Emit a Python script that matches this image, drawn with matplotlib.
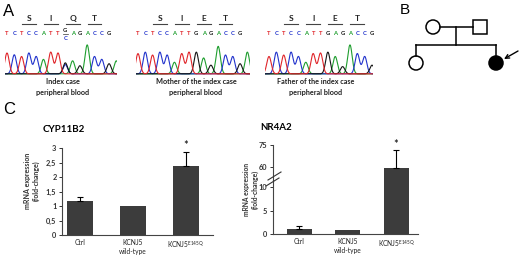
import numpy as np
import matplotlib
matplotlib.use("Agg")
import matplotlib.pyplot as plt
from matplotlib import transforms
from matplotlib.patches import Circle, Rectangle

# --- данные: секвенирование KCNJ5 ---
BASE_COLORS = {"A": "#1f9e2f", "C": "#2233cc", "G": "#151515", "T": "#e0262b"}

index_seq = "TCTCCATTGAGACCG"
index_het = {8: "C"}
index_aa = ["S", "I", "Q", "T"]
index_peaks = [("T", .72), ("C", .66), ("T", .60), ("C", .72), ("C", .60), ("A", .50),
               ("T", .75), ("T", .72), ("G", .38), ("A", .45), ("G", .28), ("A", 1.0),
               ("C", .60), ("C", .50), ("G", .35), ("A", .45)]
index_het_peaks = [(8, "C", .32)]

mother_seq = "TCTCCATTGAGACCG"
mother_aa = ["S", "I", "E", "T"]
mother_peaks = [("T", .70), ("C", .75), ("T", .65), ("C", .75), ("C", .65), ("A", .40),
                ("T", .70), ("T", .75), ("G", .75), ("A", .55), ("G", .30), ("A", .95),
                ("C", .65), ("C", .60), ("G", .35), ("A", .75)]

father_seq = "TCTCCATTGAGACCG"
father_aa = ["S", "I", "E", "T"]
father_peaks = [("T", .60), ("C", .75), ("T", .65), ("C", .75), ("C", .60), ("A", .40),
                ("T", .70), ("T", .72), ("G", .75), ("A", .60), ("G", .25), ("A", 1.0),
                ("C", .70), ("C", .60), ("G", .30)]

captions = ["Index case\nperipheral blood",
            "Mother of the index case\nperipheral blood",
            "Father of the index case\nperipheral blood"]

# --- данные: экспрессия мРНК ---
conditions = ["Ctrl", "KCNJ5\nwild-type", "KCNJ5$^{\\mathregular{E145Q}}$"]
cyp_mean = [1.18, 1.0, 2.37]
cyp_err = [0.12, 0.0, 0.50]
nr_mean = [1.05, 0.95, 59.5]
nr_err = [0.70, 0.0, 12.0]
significant = [False, False, True]

# --- родословная: (пол, поколение, поражён) ---
pedigree = [("F", 0, False), ("M", 0, False), ("F", 1, False), ("F", 1, True)]

W, H = 520, 257
BAR = "#3c3c3c"
FONT = "Lato"
plt.rcParams["font.family"] = [FONT, "DejaVu Sans"]


def box(x0, y0, x1, y1):
    return [x0 / W, 1 - y1 / H, (x1 - x0) / W, (y1 - y0) / H]


fig = plt.figure(figsize=(W / 100, H / 100), dpi=100)
ov = fig.add_axes([0, 0, 1, 1])
ov.set_xlim(0, W)
ov.set_ylim(H, 0)
ov.axis("off")
ov.set_zorder(10)

for lab, x, y, s in [("A", 3, 11, 12), ("B", 400, 10, 11), ("C", 3, 110, 12)]:
    ov.text(x, y, lab, fontsize=s, family="Liberation Sans", va="center", ha="left")


def chromatogram(x0, sp, left, right, seq, aa, peaks, het, het_peaks, caption, cx):
    ax = fig.add_axes(box(left, 42, right, 75))
    ax.set_xlim((left - x0) / sp, (right - x0) / sp)
    ax.set_ylim(-0.04, 1.1)
    ax.axis("off")
    xs = np.linspace(-1, len(peaks) + 1, 800)
    for b, col in BASE_COLORS.items():
        y = np.zeros_like(xs)
        for i, (pb, h) in enumerate(peaks):
            if pb == b:
                y += h * np.exp(-(xs - i) ** 2 / (2 * 0.3 ** 2))
        for i, hb, h in het_peaks:
            if hb == b:
                y += h * np.exp(-(xs - i) ** 2 / (2 * 0.3 ** 2))
        ax.plot(xs, y, color=col, lw=0.8)
    tr = transforms.blended_transform_factory(ax.transData, ov.transData)
    for i, b in enumerate(seq):
        if i in het:
            ov.text(i, 30.5, b, transform=tr, ha="center", va="center", fontsize=4.2,
                    fontweight="bold", color=BASE_COLORS[b], clip_on=False)
            ov.text(i, 38, het[i], transform=tr, ha="center", va="center", fontsize=4.2,
                    fontweight="bold", color=BASE_COLORS[het[i]], clip_on=False)
            ov.plot([i - 0.3, i + 0.3], [34.2, 34.2], transform=tr, color="#333", lw=0.5)
        else:
            ov.text(i, 33.5, b, transform=tr, ha="center", va="center", fontsize=4.2,
                    fontweight="bold", color=BASE_COLORS[b], clip_on=False)
    for k, a in enumerate(aa):
        c = 3 + 3 * k
        ov.text(c, 18.5, a, transform=tr, ha="center", va="center", fontsize=6,
                fontweight="bold", color="#222")
        ov.plot([c - 0.95, c + 0.95], [24, 24], transform=tr, color="#444", lw=0.8)
    ov.text(cx, 87, caption, ha="center", va="center", fontsize=5.2,
            fontweight="bold", color="#222", linespacing=1.6)


chromatogram(7, 7.29, 5, 117, index_seq, index_aa, index_peaks, index_het,
             index_het_peaks, captions[0], 63)
chromatogram(138, 7.29, 136, 250, mother_seq, mother_aa, mother_peaks, {}, [],
             captions[1], 196)
chromatogram(269, 7.36, 265, 373, father_seq, father_aa, father_peaks, {}, [],
             captions[2], 316)

# родословная
pos = {(0, 0): (433, 27), (0, 1): (480, 27), (1, 0): (416, 63), (1, 1): (496, 63)}
count = {0: 0, 1: 0}
for sex, gen, aff in pedigree:
    x, y = pos[(gen, count[gen])]
    count[gen] += 1
    fc = "black" if aff else "white"
    if sex == "F":
        ov.add_patch(Circle((x, y), 7, fc=fc, ec="black", lw=1.1))
    else:
        ov.add_patch(Rectangle((x - 7, y - 7), 14, 14, fc=fc, ec="black", lw=1.1))
ov.plot([440, 473], [27, 27], color="black", lw=1.1)
ov.plot([456, 456], [27, 45], color="black", lw=1.1)
ov.plot([416, 496], [45, 45], color="black", lw=1.1)
ov.plot([416, 416], [45, 56], color="black", lw=1.1)
ov.plot([496, 496], [45, 56], color="black", lw=1.1)
ov.annotate("", xy=(504, 59), xytext=(518, 51),
            arrowprops=dict(arrowstyle="->", lw=1.0, color="black",
                            shrinkA=0, shrinkB=0, mutation_scale=7))


def style(ax, bottom=True):
    for s in ["top", "right"]:
        ax.spines[s].set_visible(False)
    ax.spines["left"].set_color("#444")
    ax.spines["left"].set_linewidth(0.8)
    ax.spines["bottom"].set_color("#444")
    ax.spines["bottom"].set_linewidth(0.8)
    ax.spines["bottom"].set_visible(bottom)
    ax.tick_params(axis="y", length=2.5, width=0.7, labelsize=5.3, pad=1.5, colors="#333")
    ax.tick_params(axis="x", length=0, labelsize=4.8, pad=3, colors="#222")
    for t in ax.get_yticklabels():
        t.set_fontweight("bold")


def bars(ax, mean, err, width):
    x = np.arange(len(mean))
    ax.bar(x, mean, width=width, color=BAR, zorder=2)
    for i in x:
        if err[i] > 0:
            ax.errorbar(i, mean[i], yerr=[[0], [err[i]]], fmt="none", ecolor="black",
                        elinewidth=0.8, capsize=2.5, capthick=0.8, zorder=3)


# CYP11B2
ax1 = fig.add_axes(box(62, 148, 213, 235))
bars(ax1, cyp_mean, cyp_err, 0.49)
ax1.set_xlim(-0.34, 2.51)
ax1.set_ylim(0, 3)
ax1.set_yticks([0, 0.5, 1, 1.5, 2, 2.5, 3])
ax1.set_yticklabels(["0", "0,5", "1", "1,5", "2", "2,5", "3"])
ax1.set_xticks(range(3))
ax1.set_xticklabels(conditions, linespacing=1.25)
style(ax1)
for i, s in enumerate(significant):
    if s:
        ax1.text(i, cyp_mean[i] + cyp_err[i] + 0.03, "*", ha="center", va="bottom",
                 fontsize=8, clip_on=False)
ov.text(64, 129, "CYP11B2", ha="center", va="center", fontsize=7, fontweight="bold")
ov.text(32, 181, "mRNA expression\n(fold-change)", rotation=90, ha="center", va="center",
        fontsize=5, fontweight="bold", color="#333", linespacing=1.3)

# NR4A2 с разрывом оси
lo = fig.add_axes(box(273, 180, 418, 234))
hi = fig.add_axes(box(273, 145, 418, 180))
for ax in (lo, hi):
    bars(ax, nr_mean, nr_err, 0.52)
    ax.set_xlim(-0.54, 2.45)
lo.set_ylim(0, 11.5)
lo.set_yticks([0, 5, 10])
hi.set_ylim(51.1, 75)
hi.set_yticks([60, 75])
lo.set_xticks(range(3))
lo.set_xticklabels(conditions, linespacing=1.25)
hi.set_xticks([])
style(lo)
style(hi, bottom=False)
for i, s in enumerate(significant):
    if s:
        hi.text(i, nr_mean[i] + nr_err[i] + 0.3, "*", ha="center", va="bottom",
                fontsize=8, clip_on=False)
ov.plot([268, 281], [180, 172], color="#333", lw=0.8)
ov.plot([266, 279], [186, 178], color="#333", lw=0.8)
ov.text(276, 128, "NR4A2", ha="center", va="center", fontsize=7, fontweight="bold")
ov.text(251, 189, "mRNA expression\n(fold-change)", rotation=90, ha="center", va="center",
        fontsize=4.8, fontweight="bold", color="#333", linespacing=1.2)

fig.savefig("out.png", dpi=100)
